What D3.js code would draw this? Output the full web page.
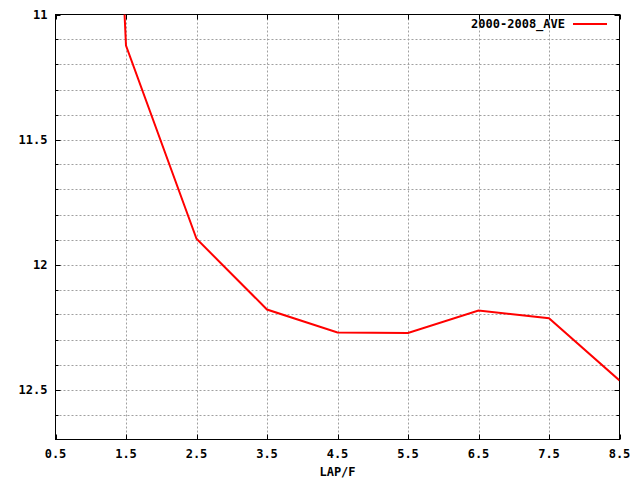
<!DOCTYPE html>
<html><head><meta charset="utf-8">
<script src="https://d3js.org/d3.v7.min.js"></script>
<style>body{margin:0;background:#fff}svg{display:block}text{font-family:"DejaVu Sans Mono",monospace;font-weight:bold;font-size:12px}</style>
</head><body>
<script>
const xValues = [0.5, 1.5, 2.5, 3.5, 4.5, 5.5, 6.5, 7.5, 8.5];
const yValues = [5.0, 11.124, 11.897, 12.18, 12.272, 12.274, 12.184, 12.215, 12.464];
const seriesName = "2000-2008_AVE";
const xTicks = [0.5, 1.5, 2.5, 3.5, 4.5, 5.5, 6.5, 7.5, 8.5];
const yTicks = [11, 11.5, 12, 12.5];
const yMinor = [11.1,11.2,11.3,11.4,11.6,11.7,11.8,11.9,12.1,12.2,12.3,12.4,12.6];

const W = 640, H = 480;
const L = 55.5, R = 619.5, T = 14.5, B = 439.5;
const svg = d3.select("body").append("svg").attr("width", W).attr("height", H);
const x = d3.scaleLinear().domain([0.5, 8.5]).range([L, R]);
const y = d3.scaleLinear().domain([11, 12.7]).range([T, B]);

// grid
const grid = svg.append("g").attr("stroke", "#a0a0a0").attr("stroke-width", 1).attr("stroke-dasharray", "2,2");
grid.selectAll(".hg").data(yTicks.concat(yMinor).filter(v => v > 11)).enter().append("line")
  .attr("x1", L).attr("x2", R).attr("y1", d => Math.round(y(d)) + 0.5).attr("y2", d => Math.round(y(d)) + 0.5);
grid.selectAll(".vg").data(xTicks.filter(v => v > 0.5 && v < 8.5)).enter().append("line")
  .attr("y1", T).attr("y2", B).attr("x1", d => Math.round(x(d)) + 0.5).attr("x2", d => Math.round(x(d)) + 0.5);

// axes
const axG = svg.append("g").attr("stroke", "#000").attr("stroke-width", 1);
axG.append("rect").attr("x", L).attr("y", T).attr("width", R - L).attr("height", B - T).attr("fill", "none");
yTicks.forEach(v => {
  const yy = Math.round(y(v)) + 0.5;
  axG.append("line").attr("x1", L).attr("x2", L + 5).attr("y1", yy).attr("y2", yy);
  axG.append("line").attr("x1", R).attr("x2", R - 5).attr("y1", yy).attr("y2", yy);
});
yMinor.forEach(v => {
  const yy = Math.round(y(v)) + 0.5;
  axG.append("line").attr("x1", L).attr("x2", L + 3).attr("y1", yy).attr("y2", yy);
  axG.append("line").attr("x1", R).attr("x2", R - 3).attr("y1", yy).attr("y2", yy);
});
xTicks.forEach(v => {
  const xx = Math.round(x(v)) + 0.5;
  axG.append("line").attr("x1", xx).attr("x2", xx).attr("y1", B).attr("y2", B - 5);
  axG.append("line").attr("x1", xx).attr("x2", xx).attr("y1", T).attr("y2", T + 5);
});
svg.selectAll(".yl").data(yTicks).enter().append("text")
  .attr("x", L - 8).attr("y", d => y(d) + 4).attr("text-anchor", "end").text(d => String(d));
svg.selectAll(".xl").data(xTicks).enter().append("text")
  .attr("x", d => x(d)).attr("y", B + 18).attr("text-anchor", "middle").text(d => d.toFixed(1));
svg.append("text").attr("x", (L + R) / 2).attr("y", 476).attr("text-anchor", "middle").text("LAP/F");

// line
svg.append("clipPath").attr("id", "clip").append("rect").attr("x", L).attr("y", T).attr("width", R - L).attr("height", B - T);
const pts = xValues.map((v, i) => [v, yValues[i]]);
svg.append("path").datum(pts).attr("clip-path", "url(#clip)")
  .attr("fill", "none").attr("stroke", "#ff0000").attr("stroke-width", 2)
  .attr("d", d3.line().x(d => x(d[0])).y(d => y(d[1])));

// legend
svg.append("text").attr("x", 565).attr("y", 28).attr("text-anchor", "end").text(seriesName);
svg.append("line").attr("x1", 573).attr("x2", 607).attr("y1", 24).attr("y2", 24).attr("stroke", "#ff0000").attr("stroke-width", 2);
</script>
</body></html>
